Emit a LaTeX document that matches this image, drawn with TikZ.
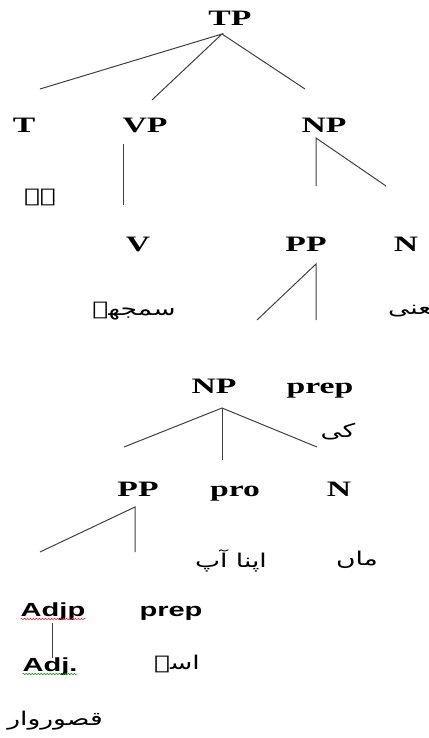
\documentclass[tikz,border=0pt]{standalone}
\usepackage{fontspec}
\setmainfont{Liberation Serif}
\newfontfamily\labsans{Liberation Sans}
\newfontfamily\urdu[Script=Arabic]{DejaVu Sans}
\TeXXeTstate=1
\usetikzlibrary{decorations.pathmorphing}
% category labels are set wide
\newcommand\stretchlab[1]{\scalebox{1.53}[1]{#1}}
% Urdu words, right to left
\newcommand\ur[2][1.4]{\scalebox{#1}[1]{\urdu\beginR #2\endR}}
\tikzset{
  lab/.style={font=\fontsize{22}{26}\selectfont\bfseries, inner sep=0pt, anchor=base},
  slab/.style={font=\labsans\fontsize{19}{22}\selectfont\bfseries, inner sep=0pt, anchor=base},
  word/.style={font=\fontsize{19}{22}\selectfont, inner sep=0pt},
  branch/.style={draw=black!75, line width=1pt},
  squiggle/.style={line width=0.5pt, decorate, decoration={snake, amplitude=0.8pt, segment length=3pt}}
}
\begin{document}
\begin{tikzpicture}[x=1pt, y=-1pt]
\useasboundingbox (0,0) rectangle (428,738);

% top level
\node[lab] (tp) at (230,26) {\stretchlab{TP}};
\node[lab] (t)  at (24,133) {\stretchlab{T}};
\node[lab] (vp) at (145,133) {\stretchlab{VP}};
\node[lab] (np) at (324,133) {\stretchlab{NP}};
\coordinate (tpa) at (222,34);
\coordinate (tpl) at (40,89);
\coordinate (tpm) at (152,100);
\coordinate (tpr) at (305,89);
\draw[branch] (tpl) -- (tpa) -- (tpm);
\draw[branch] (tpa) -- (tpr);

\node[word] (hai) at (40,197) {\ur{ہے}};

% verb phrase
\coordinate (vpt) at (123,144);
\coordinate (vpb) at (123,205);
\draw[branch] (vpt) -- (vpb);
\node[lab] (v) at (138,251) {\stretchlab{V}};
\node[word] (samjhe) at (134,311) {\ur{سمجھے}};

% noun phrase
\coordinate (npa) at (316,138);
\coordinate (npl) at (316,186);
\coordinate (npr) at (386,186);
\draw[branch] (npl) -- (npa) -- (npr);
\node[lab] (pp) at (306,251) {\stretchlab{PP}};
\node[lab] (n)  at (406,251) {\stretchlab{N}};
\node[word, anchor=west] (mani) at (388,311) {\ur{معنی}};

\coordinate (ppa) at (316,264);
\coordinate (ppv) at (316,320);
\coordinate (ppl) at (257,320);
\draw[branch] (ppl) -- (ppa) -- (ppv);

% lower noun phrase
\node[lab] (np2)   at (214,393) {\stretchlab{NP}};
\node[lab] (prep)  at (320,393) {\stretchlab{prep}};
\node[word] (ki) at (338,432) {\ur{کی}};
\coordinate (np2a) at (222,408);
\coordinate (np2l) at (124,447);
\coordinate (np2m) at (222,460);
\coordinate (np2r) at (317,447);
\draw[branch] (np2l) -- (np2a) -- (np2r);
\draw[branch] (np2a) -- (np2m);

\node[lab] (pp2) at (138,496) {\stretchlab{PP}};
\node[lab] (pro) at (235,496) {\stretchlab{pro}};
\node[lab] (n2)  at (339,496) {\stretchlab{N}};
\coordinate (pp2a) at (135,507);
\coordinate (pp2v) at (135,552);
\coordinate (pp2l) at (40,552);
\draw[branch] (pp2l) -- (pp2a) -- (pp2v);

\node[word] (apnaap) at (231,561) {\ur{اپنا آپ}};
\node[word] (maan)   at (357,560) {\ur{ماں}};

% adjective phrase
\node[slab] (adjp)  at (53,616) {\stretchlab{Adjp}};
\node[slab] (prep2) at (171,616) {\stretchlab{prep}};
\draw[red!85, squiggle] ([yshift=-3pt]adjp.base west) -- ([yshift=-3pt]adjp.base east);
\coordinate (adjt) at (52,623);
\coordinate (adjb) at (52,658);
\draw[branch] (adjt) -- (adjb);
\node[slab] (adj) at (50,671) {\stretchlab{Adj.}};
\draw[green!60!black, squiggle] ([yshift=-3pt]adj.base west) -- ([yshift=-3pt]adj.base east);
\node[word] (ise) at (177,664) {\ur{اسے}};
\node[word] (qasoor) at (55,721) {\ur{قصوروار}};
\end{tikzpicture}
\end{document}
